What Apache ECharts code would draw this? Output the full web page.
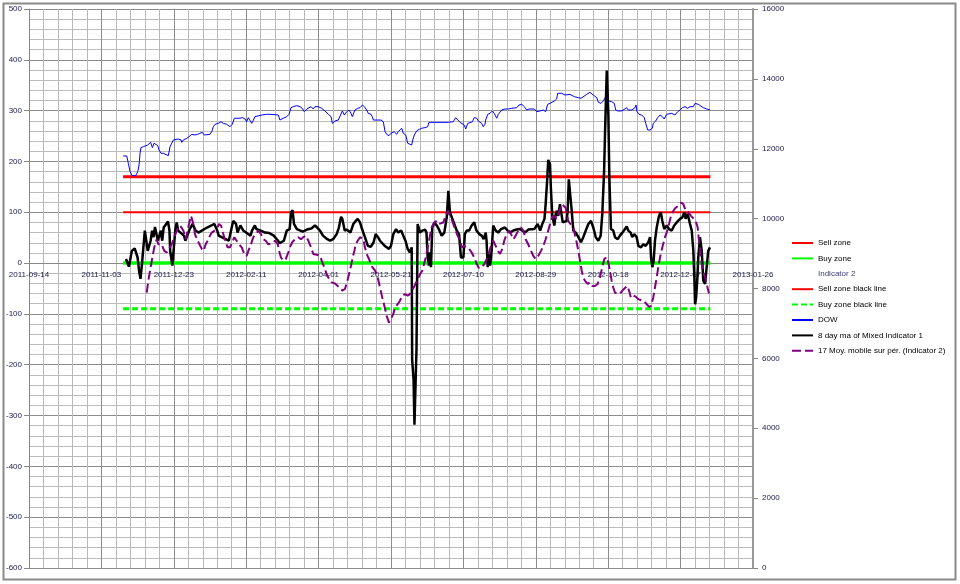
<!DOCTYPE html>
<html>
<head>
<meta charset="utf-8">
<script src="https://cdn.jsdelivr.net/npm/echarts@6/dist/echarts.min.js"></script>
<style>
html,body{margin:0;padding:0;background:#fff;}
#chart{width:960px;height:584px;}
</style>
</head>
<body>
<div id="chart"></div>
<script>
// Day offsets are counted from 2011-09-14 (x axis runs 0..500 days)
const startDate = '2011-09-14';
const xTickDays = 50;

// Zone lines (left axis)
const zoneDays = [65, 470.6];
const sellZone = [100, 100];
const sellZoneBlack = [170, 170];
const buyZone = [0, 0];
const buyZoneBlack = [-90, -90];
const indicator2 = [];

// DOW (right axis) : [day offset, value]
const dow = [[65,11793],[67.5,11793],[68.6,11584],[69.8,11344],[71.3,11230],[73.7,11230],[75.1,11344],[76,11535],[76.7,11870],[77.3,12032],[79,12060],[82,12108],[83,12128],[84,12185],[85.2,12032],[86.3,12157],[87.5,12185],[89,12089],[89.8,11965],[91.2,11870],[92.7,11870],[94,11841],[96.2,11802],[97.4,12060],[98.6,12108],[99.7,12251],[100.8,12299],[103,12279],[105,12251],[105.5,12185],[106.6,12251],[109,12299],[110.5,12346],[112.4,12413],[114.6,12394],[116.5,12413],[118,12442],[119.7,12469],[121,12394],[125,12413],[126.2,12489],[127.3,12631],[128.5,12700],[130.7,12727],[132.6,12774],[134.2,12727],[136.5,12700],[138.8,12631],[140.4,12700],[141.8,12873],[145.7,12873],[147.3,12890],[149.2,12852],[150.3,12774],[151.5,12890],[153.8,12727],[155,12822],[156,12918],[157.2,12947],[160.7,12966],[164.2,12986],[166.4,12986],[172.2,12966],[173.3,12822],[175.6,12873],[178,12918],[179.6,12986],[180.9,13175],[182.5,13204],[184.9,13233],[187.2,13204],[188.7,13157],[190.1,13061],[191.8,13138],[194.8,13204],[196.3,13138],[197.5,13204],[199.8,13204],[202.1,13157],[204.4,13081],[206.7,12986],[208.6,12918],[209.5,12727],[211.3,12795],[213.6,12822],[216.4,13081],[217.8,12966],[219.4,13061],[221,13109],[222.4,13014],[223.3,12918],[225.1,13109],[227,13157],[228.6,13175],[230.2,13252],[231.6,13204],[233.2,13109],[234.3,13014],[236.2,12986],[237.1,12918],[237.8,12822],[243.1,12822],[244.7,12774],[245.9,12489],[247,12413],[248.6,12374],[250,12442],[252.3,12489],[253.9,12413],[255,12489],[257.4,12587],[258.5,12442],[260.2,12394],[261.5,12157],[262.4,12108],[264.3,12108],[265,12251],[266.1,12394],[267.7,12509],[269.5,12556],[271.2,12587],[273.5,12604],[275.3,12631],[276.2,12756],[289.6,12756],[293,12774],[294.7,12890],[296,12873],[297.7,12756],[298.8,12727],[300.6,12679],[301.6,12565],[303,12727],[306.2,12774],[307.5,12890],[309.2,12873],[310.3,12795],[311.5,12822],[312.6,12727],[313.7,12631],[314.9,12700],[315.4,12822],[316.8,12986],[318.4,13014],[320,13081],[321.3,13014],[323,12873],[324.1,12986],[326.4,13109],[328.7,13138],[331,13138],[333.4,13157],[336.8,13175],[338.4,13252],[340.3,13271],[342.1,13204],[343.7,13109],[345.3,13138],[349,13138],[350.6,13061],[351.7,13014],[352.9,13081],[355.2,13109],[356.8,13061],[358.2,13271],[359.8,13300],[361,13347],[362.8,13366],[364.4,13424],[365.1,13586],[367.9,13586],[370.2,13538],[373.6,13557],[374.8,13538],[376.6,13490],[377.6,13444],[379.4,13461],[381.2,13444],[385.2,13557],[387.4,13615],[389.7,13538],[392.1,13461],[393.2,13329],[395,13300],[396.6,13366],[398.3,13490],[399.4,13490],[400.6,13366],[402.4,13347],[404.2,13300],[405.2,13109],[406.6,13081],[409.3,13081],[412.8,13175],[413.9,13109],[416.2,13109],[418.5,13175],[419.2,13252],[419.9,13061],[421.3,12986],[423.1,12966],[424.9,12890],[425.9,12727],[427.3,12536],[428.9,12536],[430.5,12587],[431.1,12727],[432.8,12795],[434.2,12890],[435.8,12966],[437.4,12918],[438.7,12852],[440.4,12986],[443.9,13014],[446.1,12966],[448,13061],[449.6,13109],[451.2,13175],[453,13204],[454.9,13157],[456.5,13204],[458.8,13204],[460,13300],[461.1,13329],[462.2,13271],[463.4,13233],[465.7,13175],[468,13138],[470.3,13109]];

// 8 day ma of Mixed Indicator 1 (left axis)
const mixed8 = [[67,8],[69,-7],[70,8],[71,24],[73,29],[75,11],[76,-15],[77,-31],[78,-2],[79,31],[80,64],[81,44],[82,24],[84,44],[85,64],[86,51],[87,71],[89,44],[91,64],[92,44],[93,70],[96,82],[97,64],[97.5,24],[99,-5],[101,64],[102,80],[103,64],[107,54],[108,44],[111,67],[113,77],[115,64],[117,60],[123,70],[126,74],[128,77],[130,64],[131,54],[133,51],[138,44],[140,70],[141,83],[143,77],[144,60],[146,74],[148,64],[153,54],[154,64],[156,74],[157,67],[160,64],[163,60],[166,59],[169,54],[170,54],[172,44],[173,39],[176,44],[178,64],[180,67],[181,100],[182,104],[183,77],[185,67],[189,62],[192,66],[195,68],[197.5,74],[199,70],[201,64],[203,54],[206,47],[208,44],[210,47],[212.5,57],[214,70],[215.5,91],[216.4,87],[218,64],[219.4,66],[222,60],[224,77],[225.6,83],[227,87],[228.6,80],[230,67],[232,51],[234,34],[236,32],[238,41],[239.4,57],[241,51],[242.4,44],[246,33],[248.6,28],[250,34],[251.6,57],[253.5,67],[255,60],[257,64],[258.5,54],[260,44],[261.5,28],[263,21],[264.3,31],[264.6,-190],[265.6,-230],[266.2,-318],[267,-318],[267.6,-170],[268.4,77],[270,60],[271.6,64],[273.5,66],[274.5,60],[275.3,11],[276.2,-5],[276.9,21],[277.6,-8],[278.5,70],[280,80],[281.6,74],[283,67],[285,54],[286.8,60],[288.5,90],[289.6,142],[290.7,100],[292,90],[293.7,77],[295.4,64],[297,57],[298.3,11],[300,11],[301,57],[302.3,64],[304,64],[305.7,74],[307.5,80],[309,64],[311,57],[312.6,54],[314,47],[315.4,60],[316,44],[316.8,-8],[317.7,18],[318.4,-5],[319.5,24],[320.6,74],[322.3,64],[324,60],[326,67],[328.7,70],[330.6,64],[332,60],[334.5,64],[336.8,66],[339,67],[340.7,64],[342.5,60],[344.8,66],[349,67],[351.3,77],[353,64],[354.5,77],[356,87],[356.8,116],[357.7,156],[358.6,203],[359.8,195],[360.5,142],[361.4,93],[362.8,74],[363.7,96],[364.6,103],[365.5,93],[366.7,116],[368.6,80],[369.7,77],[371.3,83],[372,103],[372.8,165],[373.8,162],[374.8,103],[375.9,64],[377.6,60],[379.4,51],[381.2,41],[382.8,51],[384.5,64],[386.3,77],[388.1,83],[389.7,70],[391.4,51],[393.2,44],[394.8,54],[395.9,96],[397.1,175],[397.8,254],[399,379],[400.1,293],[400.8,169],[401.9,67],[403.5,64],[404.7,51],[406.6,47],[408.1,54],[409.8,60],[411.6,67],[412.8,72],[413.9,64],[415.5,60],[416.6,51],[418,57],[419.7,51],[420.8,34],[422.7,31],[424.2,37],[425.9,34],[427.7,41],[428.9,51],[429.6,11],[430.5,-8],[431.4,5],[432.3,44],[433.5,70],[435.1,93],[436.3,100],[437.4,83],[438.7,67],[440.4,74],[442,67],[443.9,64],[445.6,74],[447.3,80],[449.6,87],[451.2,90],[452.6,100],[453.5,87],[454.9,97],[456.5,77],[457.7,64],[458.8,24],[459.5,-28],[460,-81],[460.7,-68],[461.6,-28],[462.2,11],[463.4,51],[464.6,24],[465.7,-35],[466.9,-41],[468,-8],[469.1,24],[470.3,31]];

// 17 Moy. mobile sur pér. (Indicator 2) (left axis)
const moy17 = [[81.3,-58],[82.4,-35],[83.6,-15],[85.2,11],[86.5,31],[88.2,47],[89.3,37],[91.6,37],[93.4,24],[95.1,21],[96.7,28],[98.6,37],[100.3,51],[102,64],[104.3,74],[106.6,64],[108.2,47],[110.5,77],[111.9,93],[113.5,77],[114.6,57],[116.5,44],[119.3,28],[120.6,24],[122,37],[123.4,44],[125,54],[126.2,60],[129.6,67],[131.2,77],[132.6,74],[134.2,57],[135.8,41],[137.2,31],[138.8,31],[140.4,41],[141.8,51],[145,37],[146.9,31],[148.7,18],[150.3,14],[151.5,24],[153.3,37],[154.9,51],[156.6,57],[158.4,64],[160.2,57],[161.8,47],[163.5,44],[165.3,37],[167.6,39],[169.9,44],[171.8,37],[172.7,24],[174,11],[175.6,5],[177.3,8],[179.1,21],[180.2,31],[181.8,41],[183.7,47],[186,51],[187.8,47],[189.4,51],[191.1,54],[192.9,44],[194.8,31],[196.3,18],[197.5,18],[199.4,16],[201,14],[202.6,1],[203.9,-8],[205.6,-22],[207.2,-31],[209,-38],[211.3,-40],[213.2,-45],[214.8,-49],[216.4,-54],[218.2,-51],[219.6,-38],[221,-22],[222.4,-5],[223.5,11],[224.7,24],[225.6,37],[227,44],[228.6,51],[229.8,54],[230.9,47],[232,31],[233.2,18],[234.8,8],[236.2,-2],[237.1,-8],[239,-15],[240.8,-28],[242.4,-48],[244,-68],[245.4,-84],[247,-104],[248.6,-117],[250,-110],[251.6,-100],[252.8,-87],[254.6,-81],[256.2,-74],[257.8,-64],[259.7,-61],[261.5,-64],[263.1,-61],[266.2,-45],[268.2,-33],[270,-22],[271.6,-15],[274,11],[275.3,31],[276.9,54],[278.1,70],[279.9,80],[281.6,83],[283.1,77],[286.1,80],[287.8,93],[289.2,103],[290.7,93],[292.3,83],[294.2,67],[296,54],[297.7,44],[298.8,31],[300.6,34],[303.9,28],[305.7,21],[307.5,11],[309.2,-2],[310.8,-10],[312.6,-8],[314.4,-2],[316.1,8],[317.7,21],[319.1,34],[320.6,44],[322.3,34],[323.7,24],[325.3,18],[326.9,28],[328.2,44],[329.9,57],[331.5,64],[332.9,57],[334.5,47],[336.1,54],[337.9,64],[339.8,70],[341.4,64],[343,47],[344.8,37],[346.7,24],[348.3,14],[349.9,8],[351.7,14],[353.6,24],[355.2,34],[356.8,47],[358.2,60],[359.8,77],[361,87],[362.2,93],[364.4,87],[366,100],[367.9,116],[369,119],[370.6,109],[371.3,100],[372.4,83],[373.6,78],[376,70],[377.1,54],[378.2,41],[379.4,24],[380.5,5],[381.7,-15],[382.8,-28],[384,-35],[385.8,-41],[387.4,-38],[389,-45],[390.9,-45],[392.7,-41],[394.3,-28],[395.9,-8],[397.3,8],[399,12],[400.1,1],[401.2,-15],[402.4,-35],[403.5,-48],[404.7,-58],[406.6,-61],[408.1,-60],[409.8,-54],[411.6,-49],[413.2,-45],[414.4,-54],[415.7,-68],[417.3,-64],[419,-66],[420.8,-71],[424.9,-75],[426.6,-81],[428.2,-86],[429.6,-84],[431.1,-68],[432.3,-48],[433.5,-28],[434.6,-8],[435.8,11],[437.4,31],[439.2,51],[440.4,60],[442,77],[443.4,93],[445,103],[446.6,109],[448.5,113],[450.3,119],[451.9,116],[453.5,103],[455.3,100],[457.2,93],[460.4,83],[461.8,70],[462.7,44],[463.6,18],[464.6,-2],[465.7,-18],[466.9,-28],[468,-41],[469.6,-60]];

const legendNames = ['Sell zone','Buy zone','Indicator 2','Sell zone black line','Buy zone black line','DOW','8 day ma of Mixed Indicator 1','17 Moy. mobile sur pér. (Indicator 2)'];

const START_MS = Date.parse(startDate + 'T00:00:00Z');
function dayLabel(d) {
  return new Date(START_MS + d * 86400000).toISOString().slice(0, 10);
}
function zone(vals) { return zoneDays.map((d, i) => [d, vals[i]]); }

const labelFont = {fontSize: 8, fontFamily: 'Liberation Sans', color: '#1a1a4a'};

// layout
const gridTop = 9, gridBottom = 16, chartH = 584;
const leftMin = -600, leftMax = 500;
const plotH = chartH - gridTop - gridBottom;
const xAxisOffset = -plotH * (0 - leftMin) / (leftMax - leftMin); // put the date axis on the zero line

const chart = echarts.init(document.getElementById('chart'), null, {renderer: 'canvas'});
chart.setOption({
  animation: false,
  backgroundColor: '#fff',
  graphic: [{
    type: 'rect', left: 1, top: 1, z: 100, silent: true,
    shape: {width: 952, height: 576},
    style: {fill: 'none', stroke: '#8a8a8a', lineWidth: 2}
  }],
  grid: {left: 29, right: 207, top: gridTop, bottom: gridBottom, containLabel: false},
  legend: {
    orient: 'vertical', left: 791, top: 238, padding: 0,
    itemWidth: 21, itemHeight: 10, itemGap: 5.4,
    itemStyle: {opacity: 0},
    textStyle: {fontSize: 8, fontFamily: 'Liberation Sans', color: '#000', lineHeight: 10},
    data: legendNames.map(n => n === 'Indicator 2' ? {name: n, textStyle: {color: '#3a3a72'}} : n),
    selectedMode: false
  },
  xAxis: {
    type: 'value', min: 0, max: 500, interval: xTickDays,
    offset: xAxisOffset,
    axisLine: {show: true, onZero: false, lineStyle: {color: '#888', width: 1}},
    axisTick: {show: false},
    axisLabel: Object.assign({margin: 8, formatter: dayLabel}, labelFont),
    splitLine: {show: true, lineStyle: {color: '#8c8c8c', width: 1}},
    minorTick: {show: false, splitNumber: 5},
    minorSplitLine: {show: true, lineStyle: {color: '#b8b8b8', width: 1}}
  },
  yAxis: [{
    type: 'value', min: leftMin, max: leftMax, interval: 100, position: 'left',
    axisLine: {show: true, onZero: false, lineStyle: {color: '#888', width: 1}},
    axisTick: {show: true, length: 5, lineStyle: {color: '#888'}},
    axisLabel: Object.assign({margin: 7}, labelFont),
    splitLine: {show: true, lineStyle: {color: '#8c8c8c', width: 1}},
    minorTick: {show: false, splitNumber: 5},
    minorSplitLine: {show: true, lineStyle: {color: '#bcbcbc', width: 1}}
  }, {
    type: 'value', min: 0, max: 16000, interval: 2000, position: 'right',
    axisLine: {show: true, onZero: false, lineStyle: {color: '#999', width: 2}},
    axisTick: {show: true, length: 5, lineStyle: {color: '#888'}},
    axisLabel: Object.assign({margin: 9, formatter: v => String(v)}, labelFont),
    splitLine: {show: false}
  }],
  series: [
    {name: 'Sell zone', type: 'line', yAxisIndex: 0, symbol: 'none', data: zone(sellZone),
     lineStyle: {color: '#ff0000', width: 2}, itemStyle: {color: '#ff0000'}},
    {name: 'Buy zone', type: 'line', yAxisIndex: 0, symbol: 'none', data: zone(buyZone),
     lineStyle: {color: '#00ff00', width: 3.5}, itemStyle: {color: '#00ff00'}},
    {name: 'Indicator 2', type: 'line', yAxisIndex: 0, symbol: 'none', data: indicator2,
     lineStyle: {color: '#3a3a72', width: 1, opacity: 0}, itemStyle: {color: '#3a3a72', opacity: 0}},
    {name: 'Sell zone black line', type: 'line', yAxisIndex: 0, symbol: 'none', data: zone(sellZoneBlack),
     lineStyle: {color: '#ff0000', width: 3}, itemStyle: {color: '#ff0000'}},
    {name: 'Buy zone black line', type: 'line', yAxisIndex: 0, symbol: 'none', data: zone(buyZoneBlack),
     lineStyle: {color: '#00ff00', width: 3, type: [6, 3]}, itemStyle: {color: '#00ff00'}},
    {name: 'DOW', type: 'line', yAxisIndex: 1, symbol: 'none', data: dow,
     lineStyle: {color: '#0000ff', width: 1}, itemStyle: {color: '#0000ff'}},
    {name: '8 day ma of Mixed Indicator 1', type: 'line', yAxisIndex: 0, symbol: 'none', data: mixed8,
     lineStyle: {color: '#000000', width: 2.5}, itemStyle: {color: '#000000'}},
    {name: '17 Moy. mobile sur pér. (Indicator 2)', type: 'line', yAxisIndex: 0, symbol: 'none', data: moy17,
     lineStyle: {color: '#800080', width: 2, type: [9, 4]}, itemStyle: {color: '#800080'}}
  ]
});
</script>
</body>
</html>
